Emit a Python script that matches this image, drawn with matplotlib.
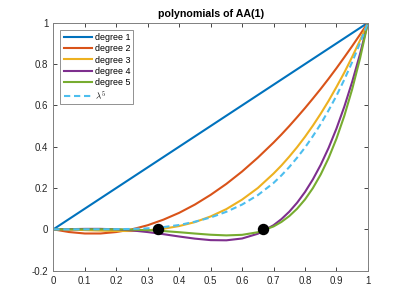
import matplotlib
matplotlib.use("Agg")
import matplotlib.pyplot as plt

plt.rcParams["font.family"] = ["Liberation Sans", "DejaVu Sans"]
plt.rcParams["mathtext.fontset"] = "cm"

x = [0, 0.05, 0.1, 0.15, 0.2, 0.25, 0.3, 0.35, 0.4, 0.45, 0.5, 0.55, 0.6, 0.65, 0.7,
     0.725, 0.75, 0.775, 0.8, 0.825, 0.85, 0.875, 0.9, 0.925, 0.95, 0.975, 1.0]

deg1 = [0, 0.05, 0.1, 0.15, 0.2, 0.25, 0.3, 0.35, 0.4, 0.45, 0.5, 0.55, 0.6, 0.65, 0.7,
        0.725, 0.75, 0.775, 0.8, 0.825, 0.85, 0.875, 0.9, 0.925, 0.95, 0.975, 1.0]
deg2 = [0, -0.013, -0.02, -0.02, -0.013, 0, 0.02, 0.047, 0.08, 0.12, 0.167, 0.22, 0.28, 0.347, 0.42,
        0.459, 0.5, 0.543, 0.587, 0.633, 0.68, 0.729, 0.78, 0.833, 0.887, 0.943, 1.0]
deg3 = [0, -0.001, -0.0035, -0.006, -0.008, -0.008, -0.0045, 0.003, 0.016, 0.035, 0.0625, 0.098, 0.144, 0.2, 0.27,
        0.309, 0.352, 0.398, 0.448, 0.502, 0.56, 0.622, 0.689, 0.759, 0.835, 0.915, 1.0]
deg4 = [0, 0.0009, 0.0023, 0.0024, 0.0001, -0.0051, -0.0131, -0.0233, -0.0346, -0.0449, -0.0521, -0.053,
        -0.0442, -0.0213, 0.0201, 0.0495, 0.0855, 0.1291, 0.1809, 0.2418, 0.3126, 0.3944, 0.4879, 0.5942,
        0.7143, 0.8492, 1.0]
deg5 = [0, 0, 0.0002, 0.0004, 0, -0.0013, -0.0039, -0.0082, -0.0138, -0.0202, -0.026, -0.0292,
        -0.0265, -0.0139, 0.0141, 0.0359, 0.0642, 0.1001, 0.1447, 0.1995, 0.2658, 0.3451, 0.4391, 0.5496,
        0.6786, 0.8279, 1.0]
lam5 = [0, 0, 0, 0.0002, 0.0008, 0.002, 0.005, 0.011, 0.021, 0.037, 0.0575, 0.085, 0.12, 0.1656, 0.2245,
        0.261, 0.3016, 0.347, 0.396, 0.451, 0.51, 0.576, 0.6465, 0.725, 0.81, 0.902, 1.0]
dots_x = [1/3, 2/3]
dots_y = [0, 0]

labels = ["degree 1", "degree 2", "degree 3", "degree 4", "degree 5", r"$\lambda^5$"]
colors = ["#0072BD", "#D95319", "#EDB120", "#7E2F8E", "#77AC30", "#4DBEEE"]
xticks = [0, 0.1, 0.2, 0.3, 0.4, 0.5, 0.6, 0.7, 0.8, 0.9, 1]
xticklabels = ["0", "0.1", "0.2", "0.3", "0.4", "0.5", "0.6", "0.7", "0.8", "0.9", "1"]
yticks = [-0.2, 0, 0.2, 0.4, 0.6, 0.8, 1]
yticklabels = ["-0.2", "0", "0.2", "0.4", "0.6", "0.8", "1"]

fig = plt.figure(figsize=(4.07, 3.05), dpi=100)
ax = fig.add_axes([0.131, 0.1125, 0.773, 0.813])

lw = 1.5
series = [deg1, deg2, deg3, deg4, deg5]
for s, lab, c in zip(series, labels[:5], colors[:5]):
    ax.plot(x, s, color=c, lw=lw, label=lab)
ax.plot(x, lam5, color=colors[5], lw=lw, ls=(0, (3.0, 1.8)), label=labels[5])
ax.plot(dots_x, dots_y, "o", color="black", ms=7.2, zorder=5)

ax.set_xlim(0, 1)
ax.set_ylim(-0.2, 1)
ax.set_xticks(xticks)
ax.set_xticklabels(xticklabels)
ax.set_yticks(yticks)
ax.set_yticklabels(yticklabels)
ax.tick_params(direction="in", top=True, right=True, length=3, width=0.6,
               labelsize=7, color="#262626", labelcolor="#262626", pad=3.5)
for sp in ax.spines.values():
    sp.set_color("#808080")
    sp.set_linewidth(0.7)
ax.set_title("polynomials of AA(1)", fontsize=7.7, fontweight="bold", pad=4, color="#000000")

leg = ax.legend(loc="upper left", fontsize=6.4, handlelength=3.2, handletextpad=0.3,
                labelspacing=0.26, borderaxespad=0.8, borderpad=0.35,
                fancybox=False, framealpha=1, edgecolor="#808080")
leg.get_frame().set_linewidth(0.6)

fig.savefig("out.png", dpi=100)
